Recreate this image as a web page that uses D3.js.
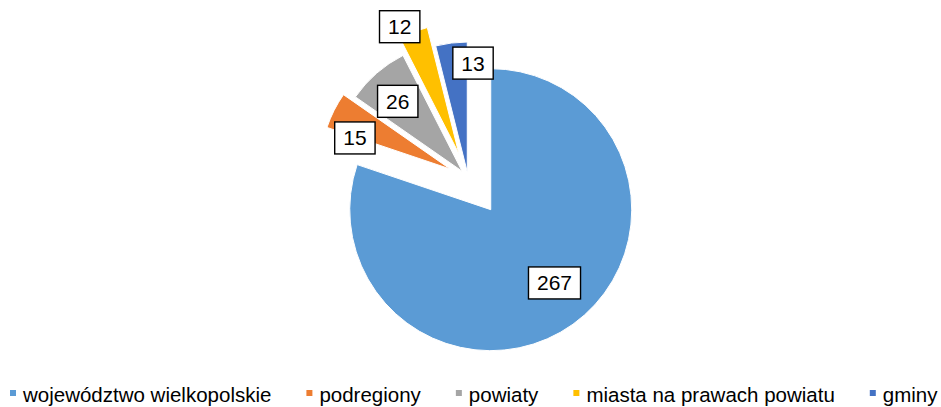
<!DOCTYPE html>
<html>
<head>
<meta charset="utf-8">
<script src="https://cdn.jsdelivr.net/npm/d3@7"></script>
<style>
  body { margin: 0; background: #fff; }
  text { font-family: "Liberation Sans", Arial, sans-serif; }
</style>
</head>
<body>
<div id="chart"></div>
<script>
// data
var categories = ['województwo wielkopolskie', 'podregiony', 'powiaty', 'miasta na prawach powiatu', 'gminy'];
var values = [267, 15, 26, 12, 13];
var colors = ['#5B9BD5', '#ED7D31', '#A5A5A5', '#FFC000', '#4472C4'];

// layout (px / degrees)
var width = 941, height = 407;
var cx = 468, cy = 178;
var explode = [39, 20, 9, 26, 6];
var radius = [141, 130, 130, 130, 130];
var labelDist = [136, 120, 104, 166, 115];
var labelAngle = [140.5, 289.5, 317.5, 335.7, 2.5];

var svg = d3.select('#chart').append('svg')
    .attr('width', width).attr('height', height);

var pie = d3.pie().sort(null).value(function(d) { return d; });
var arcs = pie(values);

var g = svg.append('g').attr('transform', 'translate(' + cx + ',' + cy + ')');

var rad = Math.PI / 180;

g.selectAll('path.slice').data(arcs).enter()
    .append('path')
    .classed('slice', true)
    .attr('d', function(d, i) {
        return d3.arc().innerRadius(0).outerRadius(radius[i])(d);
    })
    .attr('transform', function(d, i) {
        var a = (d.startAngle + d.endAngle) / 2;
        return 'translate(' + (explode[i] * Math.sin(a)) + ',' + (-explode[i] * Math.cos(a)) + ')';
    })
    .attr('fill', function(d, i) { return colors[i]; })
    .attr('stroke', '#fff')
    .attr('stroke-width', 1);

// data labels
var labels = g.selectAll('g.label').data(arcs).enter()
    .append('g')
    .classed('label', true)
    .attr('transform', function(d, i) {
        var a = labelAngle[i] * rad;
        return 'translate(' + (labelDist[i] * Math.sin(a)) + ',' + (-labelDist[i] * Math.cos(a)) + ')';
    });

labels.append('text')
    .attr('text-anchor', 'middle')
    .attr('y', 7.5)
    .attr('font-size', 21)
    .attr('fill', '#000')
    .text(function(d) { return d.data; });

labels.each(function() {
    var t = d3.select(this).select('text');
    var w = t.node().getComputedTextLength() + 17;
    d3.select(this).insert('rect', 'text')
        .attr('x', -w / 2).attr('y', -16)
        .attr('width', w).attr('height', 32)
        .attr('fill', '#fff')
        .attr('stroke', '#000')
        .attr('stroke-width', 1.4);
});

// legend (kept just inside the bottom edge)
var legend = svg.append('g').attr('class', 'legend');
var lx = 10;
categories.forEach(function(c, i) {
    legend.append('rect')
        .attr('x', lx).attr('y', 390)
        .attr('width', 6).attr('height', 6)
        .attr('fill', colors[i]);
    var t = legend.append('text')
        .attr('x', lx + 13).attr('y', 402)
        .attr('font-size', 20.5)
        .attr('fill', '#000')
        .text(c);
    lx += 13 + t.node().getComputedTextLength() + 35;
});
</script>
</body>
</html>
